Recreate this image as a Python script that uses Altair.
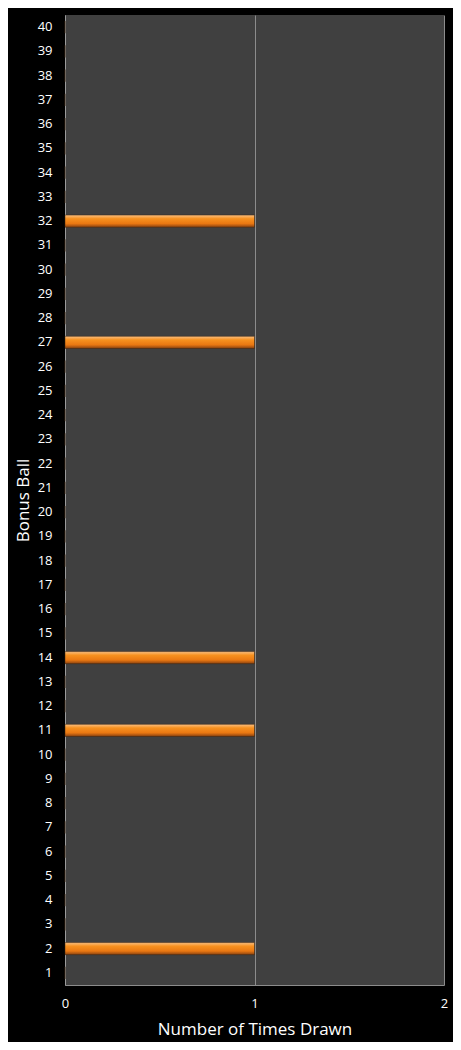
import altair as alt
import pandas as pd

balls = list(range(1, 41))
drawn_balls = [2, 11, 14, 27, 32]
drawn_counts = [1, 1, 1, 1, 1]

counts = [drawn_counts[drawn_balls.index(b)] if b in drawn_balls else 0 for b in balls]
df = pd.DataFrame({"ball": balls, "count": counts})

grad = alt.LinearGradient(
    gradient="linear", x1=0, y1=0, x2=0, y2=1,
    stops=[
        alt.GradientStop(offset=0, color="#fbc083"),
        alt.GradientStop(offset=0.3, color="#f7911f"),
        alt.GradientStop(offset=0.7, color="#ea7812"),
        alt.GradientStop(offset=1, color="#8a4210"),
    ],
)

chart = alt.Chart(df).mark_bar(color=grad, stroke="#3a2410", strokeWidth=0.5).encode(
    x=alt.X("count:Q", title="Number of Times Drawn",
            scale=alt.Scale(domain=[0, 2], nice=False, zero=True),
            axis=alt.Axis(tickCount=3, grid=True, gridColor="#8c8c8c", gridWidth=1, gridOpacity=1,
                          ticks=False, domainColor="#8c8c8c", labelColor="white", labelFontSize=13,
                          labelPadding=12, labelFlush=False, labelOverlap=False,
                          titleColor="white", titleFontSize=17, titleFontWeight="normal",
                          titlePadding=11, labelFont="Open Sans", titleFont="Open Sans", format="d")),
    y=alt.Y("ball:O", title="Bonus Ball", sort="descending",
            scale=alt.Scale(paddingInner=0.5, paddingOuter=0.25),
            axis=alt.Axis(ticks=False, domainColor="#9a9a9a", labelColor="white", labelFontSize=13,
                          labelPadding=13, titleColor="white", titleFontSize=17, titleFontWeight="normal",
                          titlePadding=5, labelFont="Open Sans", titleFont="Open Sans")),
).properties(
    width=379, height=970,
    background="black",
    padding={"left": 57, "top": 7, "right": 9, "bottom": 57},
    autosize=alt.AutoSizeParams(type="none"),
).configure_view(fill="#404040", stroke=None)

chart.save("out.html", embed_options={"renderer": "svg", "actions": False})
